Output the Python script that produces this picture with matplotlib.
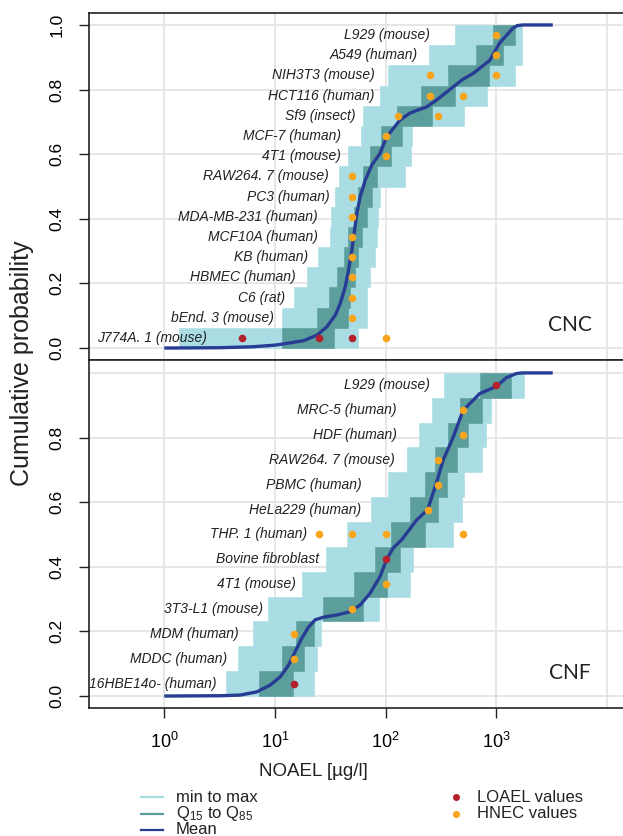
import numpy as np
import matplotlib
matplotlib.use('Agg')
import matplotlib.pyplot as plt

plt.rcParams['font.family'] = ['Liberation Sans', 'DejaVu Sans']
plt.rcParams['mathtext.fontset'] = 'custom'
plt.rcParams['mathtext.rm'] = 'Liberation Sans'
plt.rcParams['mathtext.it'] = 'Liberation Sans:italic'
plt.rcParams['mathtext.default'] = 'regular'

# ---- CNC (top panel), rows from bottom to top ----
cnc_cells = ['J774A. 1 (mouse)', 'bEnd. 3 (mouse)', 'C6 (rat)', 'HBMEC (human)', 'KB (human)',
             'MCF10A (human)', 'MDA-MB-231 (human)', 'PC3 (human)', 'RAW264. 7 (mouse)',
             '4T1 (mouse)', 'MCF-7 (human)', 'Sf9 (insect)', 'HCT116 (human)',
             'NIH3T3 (mouse)', 'A549 (human)', 'L929 (mouse)']
cnc_min = [1.35, 11.5, 14.8, 19.5, 24.5, 31.6, 32.4, 34.7, 38.0, 45.7, 60, 63.1, 89.1, 105, 245, 427]
cnc_max = [56.2, 67.6, 67.6, 72.4, 79.4, 83.2, 85.1, 89.1, 151, 170, 174, 513, 832, 1479, 1698, 1698]
cnc_q15 = [11.7, 24.0, 30.9, 36.3, 41.7, 45.7, 51.3, 56.2, 63.1, 72.4, 91.2, 126, 209, 363, 661, 933]
cnc_q85 = [33.9, 45.7, 47.9, 52.5, 56.2, 61.7, 67.6, 75.9, 83.2, 112, 141, 263, 427, 851, 1148, 1479]
cnc_mean_x = [1, 3.16, 6.31, 10, 13.8, 18.2, 24.0, 29.5, 35.1, 38.9, 43.2, 46.2, 49.0, 52.0,
              55.0, 58.9, 65.5, 75.2, 89.1, 102, 135, 166, 200, 234, 295, 380, 490, 617, 871,
              1072, 1413, 1549, 1738, 3236]
cnc_mean_y = [0.0, 0.001, 0.004, 0.009, 0.016, 0.023, 0.040, 0.066, 0.102, 0.138, 0.19, 0.241,
              0.293, 0.355, 0.417, 0.468, 0.52, 0.567, 0.603, 0.653, 0.706, 0.727, 0.738, 0.746,
              0.77, 0.80, 0.83, 0.85, 0.89, 0.944, 0.99, 0.998, 1.0, 1.0]
cnc_loael_row = [0, 0, 0]
cnc_loael_val = [5, 25, 50]
cnc_hnec_row = [0, 1, 2, 3, 4, 5, 6, 7, 8, 9, 10, 11, 11, 12, 12, 13, 13, 14, 15]
cnc_hnec_val = [100, 50, 50, 50, 50, 50, 50, 50, 50, 100, 100, 130, 300, 250, 500, 250, 1000, 1000, 1000]
cnc_label_at = [2.45, 9.8, 12.3, 15.5, 20, 24.5, 24.5, 30.9, 30.9, 39.8, 39.8, 53.7, 79.4, 79.4, 195, 251]

# ---- CNF (bottom panel) ----
cnf_cells = ['16HBE14o- (human)', 'MDDC (human)', 'MDM (human)', '3T3-L1 (mouse)', '4T1 (mouse)',
             'Bovine fibroblast', 'THP. 1 (human)', 'HeLa229 (human)', 'PBMC (human)',
             'RAW264. 7 (mouse)', 'HDF (human)', 'MRC-5 (human)', 'L929 (mouse)']
cnf_min = [3.63, 4.68, 6.31, 8.71, 17.4, 28.8, 44.7, 74.1, 105, 155, 200, 263, 339]
cnf_max = [22.4, 24.0, 26.3, 87.1, 166, 178, 407, 490, 513, 741, 813, 891, 1778]
cnf_q15 = [7.24, 11.5, 15.5, 26.9, 51.3, 79.4, 112, 166, 229, 282, 363, 468, 708]
cnf_q85 = [14.5, 18.2, 22.4, 63.1, 102, 135, 229, 295, 355, 437, 550, 741, 1349]
cnf_mean_x = [1, 3.21, 4.86, 6.87, 9.06, 11.2, 13.3, 15.2, 17.5, 20.1, 23.1, 27.5, 36.3, 47.9,
              58.9, 72.4, 89.1, 102, 117, 140, 191, 240, 288, 331, 407, 501, 708, 1000, 1230,
              1514, 1698, 3236]
cnf_mean_y = [0.0, 0.001, 0.003, 0.013, 0.034, 0.06, 0.096, 0.137, 0.179, 0.213, 0.236, 0.244,
              0.251, 0.261, 0.282, 0.318, 0.37, 0.422, 0.458, 0.484, 0.545, 0.577, 0.66, 0.73,
              0.80, 0.884, 0.936, 0.958, 0.985, 0.998, 1.0, 1.0]
cnf_loael_row = [0, 5, 12]
cnf_loael_val = [15, 100, 1000]
cnf_hnec_row = [1, 2, 3, 4, 6, 6, 6, 6, 7, 8, 9, 10, 11]
cnf_hnec_val = [15, 15, 50, 100, 25, 50, 100, 500, 240, 300, 300, 500, 500]
cnf_label_at = [2.95, 3.72, 4.68, 7.76, 15.5, 25.1, 19.5, 60.3, 60.3, 120, 126, 126, 251]

c_light = '#a9dde3'
c_dark = '#5c9e9c'
c_mean = '#273d94'
c_red = '#b3222b'
c_orange = '#f9a51e'
c_grid = '#e4e4e4'

W, H = 623, 836
fig = plt.figure(figsize=(W / 100, H / 100), dpi=100)

left = 89 / W
width = (628 - 89) / W
ax1 = fig.add_axes([left, 1 - 360 / H, width, 347 / H])
ax2 = fig.add_axes([left, 1 - 708 / H, width, 348 / H])


def draw_panel(ax, cells, lo, hi, q15, q85, mx, my, lr, lv, hr, hv, lab_at, name):
    n = len(cells)
    h = 1.0 / n
    rows = np.arange(n) * h
    ax.set_xscale('log')
    for d in [1, 10, 100, 1000, 10000]:
        ax.axvline(d, color=c_grid, lw=1.3, zorder=0)
    for v in [0, 0.2, 0.4, 0.6, 0.8, 1.0]:
        ax.axhline(v, color=c_grid, lw=1.3, zorder=0)
    ax.barh(rows, np.subtract(hi, lo), left=lo, height=h, align='edge',
            color=c_light, edgecolor=c_light, lw=0.4, zorder=1)
    ax.barh(rows, np.subtract(q85, q15), left=q15, height=h, align='edge',
            color=c_dark, edgecolor=c_dark, lw=0.4, zorder=2)
    ax.plot(mx, my, color=c_mean, lw=2.4, zorder=3, solid_joinstyle='round',
            solid_capstyle='butt')
    ax.scatter(hv, (np.array(hr) + 0.5) * h, s=30, color=c_orange, lw=0, zorder=4)
    ax.scatter(lv, (np.array(lr) + 0.5) * h, s=30, color=c_red, lw=0, zorder=4)
    for i, txt in enumerate(cells):
        ax.text(lab_at[i], (i + 0.5) * h, txt, ha='right', va='center',
                style='italic', fontsize=10, color='#222222', zorder=5)
    ax.text(0.892, 0.10, name, transform=ax.transAxes, ha='center', va='center',
            fontsize=15, family=['Lato', 'DejaVu Sans'], color='#222222')
    ax.set_xlim(10 ** -0.68, 10 ** 4.19)
    for s in ax.spines.values():
        s.set_linewidth(1.2)
        s.set_color('#222222')
    ax.tick_params(axis='y', length=7.5, width=1, labelrotation=90, labelsize=12.5,
                   pad=10, color='#222222')


draw_panel(ax1, cnc_cells, cnc_min, cnc_max, cnc_q15, cnc_q85, cnc_mean_x, cnc_mean_y,
           cnc_loael_row, cnc_loael_val, cnc_hnec_row, cnc_hnec_val, cnc_label_at, 'CNC')
draw_panel(ax2, cnf_cells, cnf_min, cnf_max, cnf_q15, cnf_q85, cnf_mean_x, cnf_mean_y,
           cnf_loael_row, cnf_loael_val, cnf_hnec_row, cnf_hnec_val, cnf_label_at, 'CNF')

ax1.set_ylim(-0.037, 1.037)
ax1.set_yticks([0, 0.2, 0.4, 0.6, 0.8, 1.0])
ax1.set_yticklabels(['0.0', '0.2', '0.4', '0.6', '0.8', '1.0'], rotation=90, va='center')
ax1.set_xticks([])
ax1.minorticks_off()
ax1.tick_params(axis='x', which='both', bottom=False, labelbottom=False)

ax2.set_ylim(-0.037, 1.040)
ax2.set_yticks([0, 0.2, 0.4, 0.6, 0.8])
ax2.set_yticklabels(['0.0', '0.2', '0.4', '0.6', '0.8'], rotation=90, va='center')
ax2.set_xticks([1, 10, 100, 1000])
ax2.set_xticklabels([r'$10^{0}$', r'$10^{1}$', r'$10^{2}$', r'$10^{3}$'])
ax2.minorticks_off()
ax2.tick_params(axis='x', length=7.5, width=1, labelsize=13, pad=10, color='#222222')

fig.text(22 / W, 1 - 363 / H, 'Cumulative probability', rotation=90, ha='center',
         va='center', fontsize=18, color='#222222')
fig.text(313 / W, 1 - 771 / H, 'NOAEL [µg/l]', ha='center', va='center', fontsize=13.5,
         color='#222222')

# legend drawn in pixel coordinates below the plot
leg = fig.add_axes([0, 0, 1, 1], zorder=-1)
leg.set_xlim(0, W)
leg.set_ylim(H, 0)
leg.axis('off')
leg_lines = ['min to max', r'Q$_{15}$ to Q$_{85}$', 'Mean']
leg_line_cols = [c_light, c_dark, c_mean]
for k, (txt, col) in enumerate(zip(leg_lines, leg_line_cols)):
    yy = 797 + 16.5 * k
    leg.plot([141, 163], [yy, yy], color=col, lw=1.6)
    leg.text(176, yy, txt, ha='left', va='center', fontsize=12, color='#222222')
leg_dots = ['LOAEL values', 'HNEC values']
leg_dot_cols = [c_red, c_orange]
for k, (txt, col) in enumerate(zip(leg_dots, leg_dot_cols)):
    yy = 797 + 16.5 * k
    leg.scatter([456], [yy], s=26, color=col, lw=0)
    leg.text(477, yy, txt, ha='left', va='center', fontsize=12, color='#222222')

fig.savefig('out.png', dpi=100)
